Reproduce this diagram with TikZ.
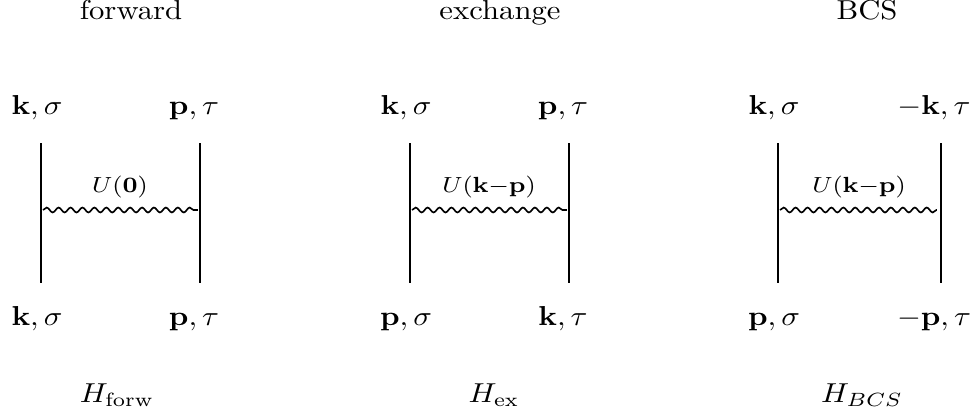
\documentclass[tikz,border=0pt]{standalone}
\usetikzlibrary{decorations.pathmorphing}
\begin{document}
\begin{tikzpicture}[x=0.365pt,y=-0.365pt,
  every node/.style={inner sep=0pt,xscale=1.12},
  lbl/.style={anchor=base},
  leg/.style={line width=0.95pt},
  wave/.style={line width=0.6pt,decorate,decoration={snake,amplitude=0.9pt,segment length=4.35pt}},
  ulbl/.style={font=\footnotesize}]
\useasboundingbox (0,0) rectangle (979,417);
% titles
\node[lbl] (t1) at (131,19) {forward};
\node[lbl] (t2) at (500,19) {exchange};
\node[lbl] (t3) at (867,19) {BCS};
% forward diagram
\coordinate (a1) at (41,143); \coordinate (a2) at (41,283);
\coordinate (b1) at (200,143); \coordinate (b2) at (200,283);
\coordinate (wa) at (43,210); \coordinate (wb) at (198,210);
\draw[leg] (a1) -- (a2);
\draw[leg] (b1) -- (b2);
\draw[wave] (wa) -- (wb);
\node[ulbl] (u1) at (120,187) {$U(\mathbf{0})$};
\node[lbl] (l1) at (37,114) {$\mathbf{k},\sigma$};
\node[lbl] (l2) at (194,114) {$\mathbf{p},\tau$};
\node[lbl] (l3) at (37,325) {$\mathbf{k},\sigma$};
\node[lbl] (l4) at (194,325) {$\mathbf{p},\tau$};
\node[lbl] (h1) at (117,402) {$H_{\mathrm{forw}}$};
% exchange diagram
\coordinate (c1) at (410,143); \coordinate (c2) at (410,283);
\coordinate (d1) at (569,143); \coordinate (d2) at (569,283);
\coordinate (wc) at (412,210); \coordinate (wd) at (567,210);
\draw[leg] (c1) -- (c2);
\draw[leg] (d1) -- (d2);
\draw[wave] (wc) -- (wd);
\node[ulbl] (u2) at (489,187) {$U(\mathbf{k}{-}\mathbf{p})$};
\node[lbl] (m1) at (406,114) {$\mathbf{k},\sigma$};
\node[lbl] (m2) at (563,114) {$\mathbf{p},\tau$};
\node[lbl] (m3) at (406,325) {$\mathbf{p},\sigma$};
\node[lbl] (m4) at (563,325) {$\mathbf{k},\tau$};
\node[lbl] (h2) at (494,402) {$H_{\mathrm{ex}}$};
% BCS diagram
\coordinate (e1) at (778,143); \coordinate (e2) at (778,283);
\coordinate (f1) at (941,143); \coordinate (f2) at (941,283);
\coordinate (we) at (780,210); \coordinate (wf) at (937,210);
\draw[leg] (e1) -- (e2);
\draw[leg] (f1) -- (f2);
\draw[wave] (we) -- (wf);
\node[ulbl] (u3) at (859,187) {$U(\mathbf{k}{-}\mathbf{p})$};
\node[lbl] (r1) at (774,114) {$\mathbf{k},\sigma$};
\node[lbl] (r2) at (934,114) {$-\mathbf{k},\tau$};
\node[lbl] (r3) at (774,325) {$\mathbf{p},\sigma$};
\node[lbl] (r4) at (934,325) {$-\mathbf{p},\tau$};
\node[lbl] (h3) at (862,402) {$H_{BCS}$};
\end{tikzpicture}
\end{document}
